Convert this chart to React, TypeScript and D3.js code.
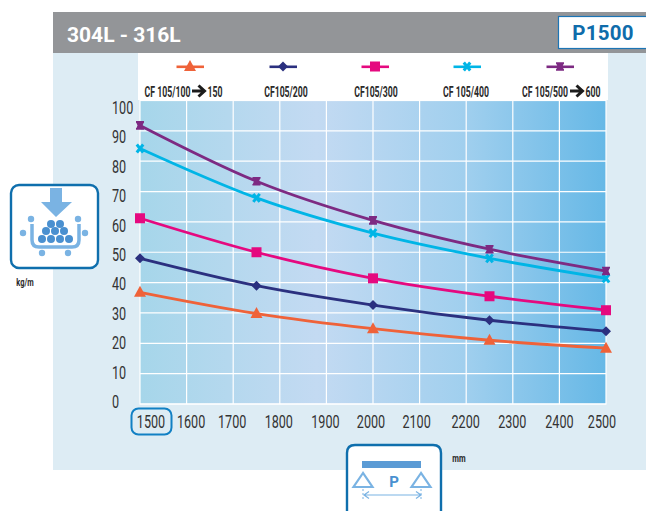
import React from "react";
import * as d3 from "d3";

const spans = [1500, 1750, 2000, 2250, 2500];
const orange = [36.8, 29.8, 24.8, 21, 18.4];
const navy = [48, 39, 32.6, 27.6, 24];
const magenta = [61.2, 50, 41.4, 35.5, 30.9];
const cyan = [84.2, 67.9, 56.3, 48, 41.4];
const purple = [91.8, 73.4, 60.5, 51, 43.8];
const xLabels = [1500, 1600, 1700, 1800, 1900, 2000, 2100, 2200, 2300, 2400, 2500];
const yLabels = [0, 10, 20, 30, 40, 50, 60, 70, 80, 90, 100];
const legendNames = ["CF 105/100", "CF105/200", "CF105/300", "CF 105/400", "CF 105/500"];

const x = d3.scaleLinear().domain([1500, 2500]).range([140, 606]);
const y = d3.scaleLinear().domain([0, 100]).range([404, 100.5]);
const xLabelNudge = [11, 4.5, -1, -1, -1, -2, -3, -0.5, -0.5, 0, -4];
const yLabelPos = d3.scaleLinear().domain([0, 100]).range([402, 108]);
const line = d3.line<number>().x((_, i) => x(spans[i])).y((d) => y(d)).curve(d3.curveMonotoneX);

const FONT = "Roboto, 'Liberation Sans', sans-serif";
const BLUE = "#0f6fad";
const LIGHT = "#7ab3e3";
const DARK = "#4a90d0";

function Marker({ kind, cx, cy, color, s = 1 }: { kind: string; cx: number; cy: number; color: string; s?: number }) {
  const t = `translate(${cx},${cy}) scale(${s})`;
  if (kind === "tri") return <path transform={t} d="M0,-6.5L6,4.5L-6,4.5Z" fill={color} />;
  if (kind === "dia") return <path transform={t} d="M0,-5L5,0L0,5L-5,0Z" fill={color} />;
  if (kind === "sq") return <rect transform={t} x={-5} y={-5} width={10} height={10} fill={color} />;
  if (kind === "x") return <path transform={t} d="M-3.2,-4L3.2,4M3.2,-4L-3.2,4" stroke={color} strokeWidth={3} fill="none" />;
  return (
    <g transform={t}>
      <path d="M-4,-3.5H4L2.5,0L4,3.5H-4L-2.5,0Z" fill={color} />
      <path d="M-4,-3.5H4M-4,3.5H4" stroke={color} strokeWidth={1.6} />
    </g>
  );
}

const seriesList = [
  { v: orange, color: "#ef6239", kind: "tri", lx: 190 },
  { v: navy, color: "#2b307f", kind: "dia", lx: 283 },
  { v: magenta, color: "#e5097f", kind: "sq", lx: 375 },
  { v: cyan, color: "#00b5e6", kind: "x", lx: 467 },
  { v: purple, color: "#7d2a82", kind: "bow", lx: 560 },
];

function Narrow({ cx, cy, size, sx, children, weight = 500, fill = "#2a2a2a", anchor = "middle" }: any) {
  return (
    <text transform={`translate(${cx},${cy}) scale(${sx},1)`} textAnchor={anchor} fontFamily={FONT} fontSize={size} fontWeight={weight} fill={fill}>
      {children}
    </text>
  );
}

function ArrowGlyph({ x0, y0 }: { x0: number; y0: number }) {
  return (
    <path
      d={`M${x0},${y0}h12M${x0 + 6.5},${y0 - 5.5}l6,5.5l-6,5.5`}
      stroke="#1c1c1c"
      strokeWidth={3}
      fill="none"
    />
  );
}

export default function App() {
  const xGrid = d3.range(1, 10).map((i) => 140 + (466 * i) / 10);
  const LEG = 15;
  const LSX = 0.58;
  return (
    <svg width={646} height={511} style={{ position: "absolute", left: 0, top: 0 }}>
      <defs>
        <linearGradient id="plotBg" x1="0" x2="1" y1="0" y2="0">
          <stop offset="0" stopColor="#a6d6ea" />
          <stop offset="0.38" stopColor="#c3daf2" />
          <stop offset="0.7" stopColor="#a0cfee" />
          <stop offset="1" stopColor="#66b8e6" />
        </linearGradient>
      </defs>
      <rect x={53} y={53} width={593} height={417} fill="#ddecf4" />
      <rect x={53} y={12} width={593} height={41} fill="#939598" />
      <rect x={138} y={53} width={470} height={47} fill="#ffffff" />
      <text x={67} y={41.5} fontFamily={FONT} fontWeight={700} fontSize={21} fill="#ffffff">304L - 316L</text>
      <rect x={558.5} y={16.5} width={90} height={32} fill="#ffffff" stroke="#1c75b5" strokeWidth={1.2} />
      <text x={603} y={40} textAnchor="middle" fontFamily={FONT} fontWeight={700} fontSize={20.5} letterSpacing={0.2} fill="#0f6cab">P1500</text>

      <rect x={140} y={100.5} width={466} height={303.5} fill="url(#plotBg)" />
      {xGrid.map((gx) => (
        <line key={gx} x1={gx} x2={gx} y1={100.5} y2={404} stroke="#ffffff" strokeWidth={1.2} />
      ))}
      {yLabels.slice(0, 10).map((v) => (
        <line key={v} x1={140} x2={606} y1={y(v)} y2={y(v)} stroke="#ffffff" strokeWidth={1.2} />
      ))}
      <rect x={140} y={100.5} width={466} height={303.5} fill="none" stroke="#ffffff" strokeWidth={1.2} />

      {seriesList.map((s) => (
        <g key={s.kind}>
          <path d={line(s.v) ?? ""} fill="none" stroke={s.color} strokeWidth={2.8} />
          {s.v.map((d, i) => (
            <Marker key={i} kind={s.kind} cx={x(spans[i])} cy={y(d)} color={s.color} />
          ))}
        </g>
      ))}

      {seriesList.map((s) => (
        <g key={s.kind + "l"}>
          <line x1={s.lx - 13.5} x2={s.lx + 14} y1={66.8} y2={66.8} stroke={s.color} strokeWidth={2.6} />
          <Marker kind={s.kind} cx={s.lx} cy={66.5} color={s.color} />
        </g>
      ))}
      <Narrow cx={167.5} cy={97} size={LEG} sx={LSX} weight={700}>{legendNames[0]}</Narrow>
      <ArrowGlyph x0={192} y0={91} />
      <Narrow cx={215} cy={97} size={LEG} sx={LSX} weight={700}>150</Narrow>
      <Narrow cx={286} cy={97} size={LEG} sx={LSX} weight={700}>{legendNames[1]}</Narrow>
      <Narrow cx={376} cy={97} size={LEG} sx={LSX} weight={700}>{legendNames[2]}</Narrow>
      <Narrow cx={466} cy={97} size={LEG} sx={LSX} weight={700}>{legendNames[3]}</Narrow>
      <Narrow cx={545} cy={97} size={LEG} sx={LSX} weight={700}>{legendNames[4]}</Narrow>
      <ArrowGlyph x0={570} y0={91} />
      <Narrow cx={593} cy={97} size={LEG} sx={LSX} weight={700}>600</Narrow>

      {yLabels.map((v) => (
        <Narrow key={v} anchor="start" cx={112} cy={yLabelPos(v) + 6} size={17.5} sx={0.72} weight={400} fill="#333333">
          {v}
        </Narrow>
      ))}
      {xLabels.map((v, i) => (
        <Narrow key={v} cx={x(v) + xLabelNudge[i]} cy={428.3} size={17.5} sx={0.72} weight={400} fill="#333333">
          {v}
        </Narrow>
      ))}
      <rect x={131.5} y={408.5} width={40} height={26} rx={7} fill="none" stroke="#1180c4" strokeWidth={2} />

      <rect x={11} y={185} width={87} height={83} rx={8} fill="#ffffff" stroke={BLUE} strokeWidth={2.4} />
      <path d="M50,188H62V202H72L56,217L41,202H50Z" fill={LIGHT} />
      <path d="M32,224V240Q32,247 39,247H72Q79,247 79,240V224" fill="none" stroke={LIGHT} strokeWidth={3.5} />
      {[[31, 219], [78, 219], [23, 233], [85, 233], [42, 253], [68, 253]].map(([cx, cy]) => (
        <circle key={cx} cx={cx} cy={cy} r={3.2} fill={LIGHT} />
      ))}
      {[[51, 224], [60, 224], [46, 231], [55, 231], [64, 231], [42, 239], [51, 239], [60, 239], [69, 239]].map(([cx, cy]) => (
        <circle key={`${cx}-${cy}`} cx={cx} cy={cy} r={4} fill={DARK} />
      ))}
      <Narrow cx={25} cy={286} size={11} sx={0.68} weight={700}>kg/m</Narrow>

      <path d="M347,511V453Q347,445 355,445H433Q441,445 441,453V511" fill="#ffffff" stroke={BLUE} strokeWidth={2.4} />
      <rect x={362} y={461} width={59} height={7} fill="#5b9bd5" />
      <path d="M363,473L353.5,487H372.5Z M421,473L411.5,487H430.5Z" fill="none" stroke={LIGHT} strokeWidth={2.2} />
      <text x={394} y={487} textAnchor="middle" fontFamily={FONT} fontWeight={700} fontSize={15} fill="#4a90d0">P</text>
      <path d="M364,495H421M369,491.5L364,495L369,498.5M416,491.5L421,495L416,498.5" fill="none" stroke={LIGHT} strokeWidth={1.2} />
      <path d="M363,489V500M421,489V500" stroke={LIGHT} strokeWidth={1} strokeDasharray="2 2" />
      <Narrow cx={459} cy={462} size={11} sx={0.7} weight={700}>mm</Narrow>
    </svg>
  );
}
